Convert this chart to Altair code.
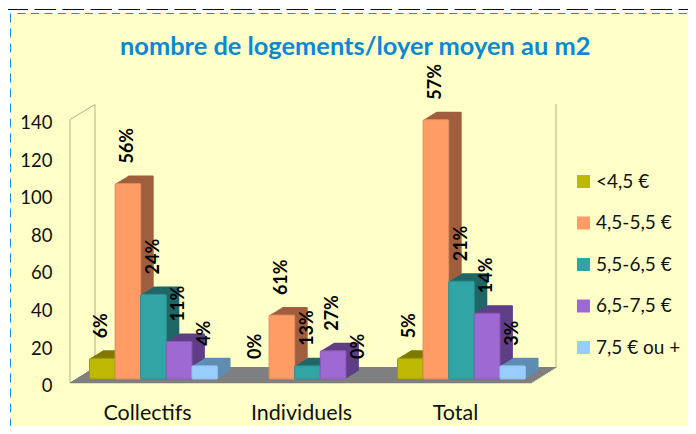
import altair as alt
import pandas as pd

categories = ["Collectifs", "Individuels", "Total"]
series = ["<4,5 €", "4,5-5,5 €", "5,5-6,5 €", "6,5-7,5 €", "7,5 € ou +"]
values = {
    "Collectifs": [11, 104, 45, 20, 7],
    "Individuels": [0, 34, 7, 15, 0],
    "Total": [11, 138, 52, 35, 7],
}
percents = {
    "Collectifs": ["6%", "56%", "24%", "11%", "4%"],
    "Individuels": ["0%", "61%", "13%", "27%", "0%"],
    "Total": ["5%", "57%", "21%", "14%", "3%"],
}
front = ["#BDB800", "#FF9C66", "#31A5A5", "#9F69D3", "#99CCFF"]
side = ["#7F7A00", "#A05F3E", "#206767", "#5F3F87", "#5F8CB3"]
edge = ["#9C9800", "#E08A5C", "#2B8F8F", "#8A5CB8", "#8FBDE8"]
y_ticks = [0, 20, 40, 60, 80, 100, 120, 140]

FONT = "Lato"
W, H = 680, 418
GROUP = 128 / 154
rows = []
for ci, c in enumerate(categories):
    for i, s in enumerate(series):
        left = ci + (1 - GROUP) / 2 + i * GROUP / 5
        rows.append(dict(cat=c, series=s, value=values[c][i], base=0, pct=percents[c][i],
                         key="side" + str(i), edge=edge[i],
                         x0=left, x1=left + GROUP / 5, xc=left + GROUP / 10))
df = pd.DataFrame(rows)
bars = df[df.value > 0]

X = alt.Scale(domain=[0, 3], range=[62, 524], nice=False, zero=False)
Y = alt.Scale(domain=[0, 140], range=[374.6, 111.5], nice=False)
FILL = alt.Scale(domain=series + ["side" + str(i) for i in range(5)], range=front + side)
x_axis = alt.Axis(
    title=None, orient="bottom", offset=-(H + 8 - 413), zindex=1,
    values=[0.5, 1.5, 2.5], domain=False, ticks=False, grid=False, labelAngle=0,
    labelExpr="['Collectifs','Individuels','Total'][floor(datum.value)]",
    labelFont=FONT, labelFontSize=21.5, labelColor="#111111", labelPadding=0, labelBaseline="middle")
y_axis = alt.Axis(
    title=None, orient="left", offset=-44, zindex=1, values=y_ticks, domain=False, ticks=False, grid=False,
    labelFont=FONT, labelFontSize=18.5, labelColor="#111111", labelPadding=0, labelOffset=3)
legend = alt.Legend(
    values=series, title=None, orient="none", legendX=566, legendY=164, symbolType="square",
    symbolSize=169, symbolStrokeWidth=0, labelFont=FONT, labelFontSize=19, labelColor="#111111",
    rowPadding=21.5, labelOffset=3, zindex=1)
seed = pd.DataFrame({"a": [0]})

layers = []
layers.append(alt.Chart(seed).mark_rect(fill="#FFFFC8").encode(
    x=alt.value(3), x2=alt.value(W), y=alt.value(6), y2=alt.value(H)))
layers.append(alt.Chart(seed).mark_rule(stroke="#111111", strokeWidth=1, strokeDash=[21.5, 6.5]).encode(
    x=alt.value(-1.5), x2=alt.value(W), y=alt.value(1.5)))
layers.append(alt.Chart(seed).mark_rule(stroke="#1591DC", strokeWidth=1, strokeDash=[8, 5.5]).encode(
    x=alt.value(9.5), x2=alt.value(W), y=alt.value(5.5)))
layers.append(alt.Chart(seed).mark_rule(stroke="#1591DC", strokeWidth=1, strokeDash=[9, 6]).encode(
    x=alt.value(2.5), y=alt.value(5.5), y2=alt.value(H)))

wall = "#B5B08C"
for x1, y1, x2, y2 in [(62, 111.5, 62, 374.6), (87, 96.5, 87, 360), (62, 111.5, 87, 96.5), (548, 96, 548, 360)]:
    layers.append(alt.Chart(seed).mark_rule(stroke=wall, strokeWidth=1).encode(
        x=alt.value(x1), x2=alt.value(x2), y=alt.value(y1), y2=alt.value(y2)))
for d in range(0, 16):
    layers.append(alt.Chart(seed).mark_rule(stroke="#7F7F7F", strokeWidth=1.2).encode(
        x=alt.value(62 + d * 24 / 15), x2=alt.value(524 + d * 24 / 15), y=alt.value(374.6 - d)))

BX, BY = 6.5, -3.6
DEPTH = 13
for d in range(DEPTH, 0, -1):
    ox, oy = BX + d, BY - d * 8 / DEPTH
    layers.append(alt.Chart(bars).mark_bar(
        xOffset=ox, x2Offset=ox, yOffset=oy, y2Offset=oy, cornerRadius=1
    ).encode(
        x=alt.X("x0:Q", scale=X, axis=x_axis),
        x2="x1:Q",
        y=alt.Y("value:Q", scale=Y, axis=y_axis),
        y2="base:Q",
        fill=alt.Fill("key:N", scale=FILL, legend=legend),
    ))

layers.append(alt.Chart(bars).mark_bar(
    xOffset=BX, x2Offset=BX, yOffset=BY, y2Offset=BY, strokeWidth=1, cornerRadius=1
).encode(
    x=alt.X("x0:Q", scale=X, axis=x_axis),
    x2="x1:Q",
    y=alt.Y("value:Q", scale=Y, axis=y_axis),
    y2="base:Q",
    fill=alt.Fill("series:N", scale=FILL, legend=legend),
    stroke=alt.Stroke("edge:N", scale=None),
))

layers.append(alt.Chart(df).mark_text(
    angle=270, align="left", baseline="middle", font=FONT, fontSize=18, fontWeight="bold",
    color="#000000", xOffset=BX, yOffset=BY - 20
).encode(
    x=alt.X("xc:Q", scale=X, axis=x_axis),
    y=alt.Y("value:Q", scale=Y, axis=y_axis),
    text="pct:N",
))

chart = alt.layer(*layers).properties(
    width=W, height=H, padding=0, autosize=alt.AutoSizeParams(type="none"),
    background="white",
    title=alt.TitleParams("nombre de logements/loyer moyen au m2", anchor="start", frame="group",
                          dx=112, dy=56, font=FONT, fontSize=25.4, fontWeight="bold", color="#0A88D4"),
).configure_view(stroke=None)

chart.save("out.html", embed_options={"renderer": "svg", "actions": False})
